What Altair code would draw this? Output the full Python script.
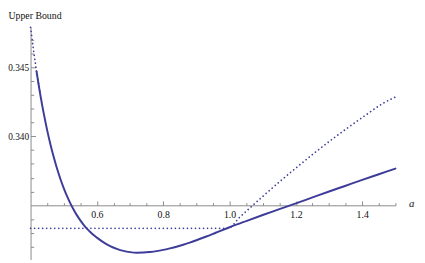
import altair as alt
import pandas as pd

# Solid curve (a, upper bound)
solid_a = [0.418, 0.430, 0.440, 0.450, 0.460, 0.470, 0.480, 0.490, 0.500, 0.510,
           0.520, 0.530, 0.540, 0.550, 0.560, 0.570, 0.580, 0.590, 0.600, 0.620,
           0.640, 0.660, 0.680, 0.700, 0.720, 0.740, 0.760, 0.780, 0.800, 0.820,
           0.840, 0.860, 0.880, 0.900, 0.930, 0.960, 1.000, 1.050, 1.100, 1.150,
           1.200, 1.250, 1.300, 1.350, 1.400, 1.450, 1.500]
solid_v = [0.34470, 0.34293, 0.34162, 0.34045, 0.33941, 0.33848, 0.33765, 0.33691, 0.33625, 0.33566,
           0.33514, 0.33468, 0.33427, 0.33391, 0.33359, 0.33331, 0.33307, 0.33285, 0.33266, 0.33232,
           0.33205, 0.33185, 0.33170, 0.33161, 0.33157, 0.33158, 0.33162, 0.33168, 0.33177, 0.33188,
           0.33200, 0.33214, 0.33230, 0.33247, 0.33274, 0.33303, 0.33341, 0.33386, 0.33430, 0.33472,
           0.33514, 0.33557, 0.33600, 0.33642, 0.33684, 0.33725, 0.33766]

# Dotted curve, two pieces
dot_a = [0.400, 0.410, 0.420, 0.428,
         0.400, 0.995, 1.030, 1.070, 1.110, 1.160, 1.210, 1.260, 1.310, 1.360, 1.410, 1.460, 1.500]
dot_v = [0.34790, 0.34605, 0.34440, 0.34325,
         0.333333, 0.333333, 0.33412, 0.33500, 0.33586, 0.33690, 0.33790, 0.33887, 0.33980, 0.34068,
         0.34153, 0.34235, 0.34285]
dot_seg = [0, 0, 0, 0, 1, 1, 1, 1, 1, 1, 1, 1, 1, 1, 1, 1, 1]

x_major = [0.6, 0.8, 1.0, 1.2, 1.4]
x_minor = [0.45, 0.5, 0.55, 0.65, 0.7, 0.75, 0.85, 0.9, 0.95, 1.05, 1.1, 1.15,
           1.25, 1.3, 1.35, 1.45, 1.5]
y_major = [0.340, 0.345]
y_minor = [0.332, 0.333, 0.334, 0.336, 0.337, 0.338, 0.339, 0.341, 0.342, 0.343,
           0.344, 0.346, 0.347]

df_s = pd.DataFrame({"a": solid_a, "v": solid_v})
df_d = pd.DataFrame({"a": dot_a, "v": dot_v, "seg": dot_seg})

W, H = 372, 237
xdom = [0.4, 1.5]
ydom = [0.33107, 0.34791]
y0 = (0.335 - ydom[0]) / (ydom[1] - ydom[0]) * H  # px above bottom

xs = alt.Scale(domain=xdom, nice=False, zero=False)
ys = alt.Scale(domain=ydom, nice=False, zero=False)
LINE = "#3d3d99"
AX = "#8a8a8a"
FONT = "Liberation Serif, DejaVu Serif, serif"

solid = alt.Chart(df_s).mark_line(color=LINE, strokeWidth=2, strokeCap="round",
                                  interpolate="monotone").encode(
    x=alt.X("a:Q", scale=xs, axis=alt.Axis(
        orient="bottom", offset=-y0, values=x_major, format=".1f", ticks=False,
        labelPadding=4, labelFont=FONT, labelFontSize=10, labelColor="#111",
        domainColor=AX, domainWidth=1, grid=False,
        title="a", titleFont=FONT, titleFontSize=11, titleFontStyle="italic",
        titleFontWeight="normal", titleColor="#111",
        titleX=388, titleY=1, titleAlign="center", titleBaseline="alphabetic")),
    y=alt.Y("v:Q", scale=ys, axis=alt.Axis(
        orient="left", values=y_major, format=".3f", ticks=False,
        labelPadding=2, labelFont=FONT, labelFontSize=9.5, labelColor="#111",
        domainColor=AX, domainWidth=1, grid=False,
        title="Upper Bound", titleFont=FONT, titleFontSize=10, titleFontWeight="normal",
        titleColor="#111", titleAngle=0, titleX=-23, titleY=-9,
        titleAlign="left", titleBaseline="alphabetic")),
)

dotted = alt.Chart(df_d).mark_line(color=LINE, strokeWidth=1.7, strokeDash=[0.1, 4],
                                   strokeCap="round", interpolate="monotone").encode(
    x=alt.X("a:Q", scale=xs, axis=alt.Axis(
        orient="top", offset=-(H - y0), values=x_major, labels=False, domain=False,
        ticks=True, tickSize=4.5, tickColor=AX, grid=False, title=None)),
    y=alt.Y("v:Q", scale=ys, axis=alt.Axis(
        orient="right", offset=-W, values=y_major, labels=False, domain=False,
        ticks=True, tickSize=5, tickColor=AX, grid=False, title=None)),
    detail="seg:N",
)

minor = alt.Chart(df_s).mark_line(opacity=0).encode(
    x=alt.X("a:Q", scale=xs, axis=alt.Axis(
        orient="top", offset=-(H - y0), values=x_minor, labels=False, domain=False,
        ticks=True, tickSize=2.7, tickColor=AX, grid=False, title=None)),
    y=alt.Y("v:Q", scale=ys, axis=alt.Axis(
        orient="right", offset=-W, values=y_minor, labels=False, domain=False,
        ticks=True, tickSize=3.2, tickColor=AX, grid=False, title=None)),
)

chart = alt.layer(minor, dotted, solid).resolve_axis(
    x="independent", y="independent"
).properties(
    width=W, height=H,
    autosize=alt.AutoSizeParams(type="none"),
    padding={"left": 23, "top": 17, "right": 22, "bottom": 0},
    background="white",
).configure_view(stroke=None)

chart.save("out.html", embed_options={"renderer": "svg", "actions": False})
